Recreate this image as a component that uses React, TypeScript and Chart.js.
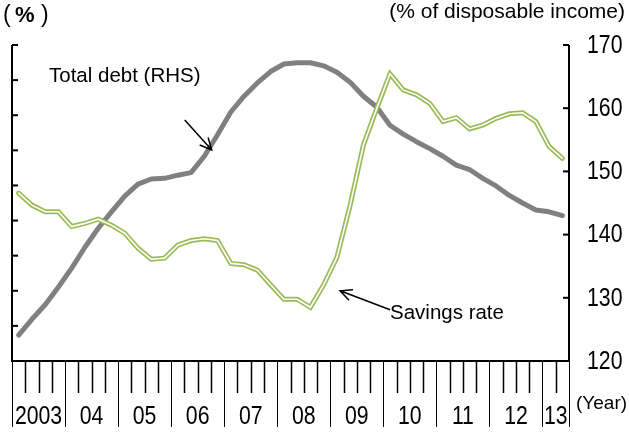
import React, { useEffect, useRef } from "react";
import { Chart, registerables } from "chart.js";
Chart.register(...registerables);

const quarters = [
  "2003Q1","2003Q2","2003Q3","2003Q4","2004Q1","2004Q2","2004Q3","2004Q4",
  "2005Q1","2005Q2","2005Q3","2005Q4","2006Q1","2006Q2","2006Q3","2006Q4",
  "2007Q1","2007Q2","2007Q3","2007Q4","2008Q1","2008Q2","2008Q3","2008Q4",
  "2009Q1","2009Q2","2009Q3","2009Q4","2010Q1","2010Q2","2010Q3","2010Q4",
  "2011Q1","2011Q2","2011Q3","2011Q4","2012Q1","2012Q2","2012Q3","2012Q4",
  "2013Q1","2013Q2",
];
const yearLabels = ["2003","04","05","06","07","08","09","10","11","12","13"];

// Total debt, % of disposable income (right axis)
const totalDebt = [
  124.1,126.6,128.9,131.7,134.7,138.0,141.0,143.6,146.1,148.0,
  148.8,148.9,149.4,149.8,152.4,155.8,159.4,161.9,164.0,165.8,
  167.0,167.2,167.2,166.7,165.7,164.1,161.9,160.2,157.3,155.9,
  154.7,153.6,152.4,151.0,150.3,148.9,147.7,146.2,145.0,143.9,
  143.6,143.0,
];
// Savings rate, % (left axis)
const savingsRate = [
  4.78,4.44,4.25,4.25,3.83,3.92,4.04,3.87,3.64,3.21,
  2.90,2.93,3.30,3.43,3.48,3.43,2.78,2.74,2.59,2.17,
  1.76,1.76,1.53,2.17,2.95,4.44,6.15,7.19,8.18,7.72,
  7.58,7.34,6.82,6.93,6.61,6.72,6.91,7.04,7.07,6.82,
  6.11,5.77,
];
const rightTicks = [120, 130, 140, 150, 160, 170];
const leftTicks = [0, 1, 2, 3, 4, 5, 6, 7, 8, 9];

const NUM_FONT = "25px 'Liberation Sans', Arial, sans-serif";
const TXT_FONT = "20.5px 'Liberation Sans', Arial, sans-serif";

function narrowText(ctx: CanvasRenderingContext2D, text: string, x: number, y: number, sx: number) {
  ctx.save();
  ctx.translate(x, y);
  ctx.scale(sx, 1);
  ctx.fillText(text, 0, 0);
  ctx.restore();
}

function arrow(ctx: CanvasRenderingContext2D, x1: number, y1: number, x2: number, y2: number) {
  ctx.beginPath();
  ctx.moveTo(x1, y1);
  ctx.lineTo(x2, y2);
  const ang = Math.atan2(y2 - y1, x2 - x1);
  const L = 13, s = 0.45;
  ctx.moveTo(x2 - L * Math.cos(ang - s), y2 - L * Math.sin(ang - s));
  ctx.lineTo(x2, y2);
  ctx.lineTo(x2 - L * Math.cos(ang + s), y2 - L * Math.sin(ang + s));
  ctx.stroke();
}

const decorPlugin = {
  id: "decor",
  afterDatasetsDraw(chart: any) {
    const { ctx, chartArea: a, scales } = chart;
    const x = scales.x, yL = scales.yL, yR = scales.yR;
    ctx.save();
    ctx.strokeStyle = "#000";
    ctx.fillStyle = "#000";

    // axis lines
    ctx.lineWidth = 2;
    ctx.beginPath();
    ctx.moveTo(a.left, a.top);
    ctx.lineTo(a.left, a.bottom);
    ctx.lineTo(a.right, a.bottom);
    ctx.lineTo(a.right, a.top);
    ctx.stroke();

    // left ticks (inward)
    leftTicks.forEach((v) => {
      const y = yL.getPixelForValue(v);
      ctx.beginPath();
      ctx.moveTo(a.left, y);
      ctx.lineTo(a.left + 6, y);
      ctx.stroke();
    });
    // right ticks + labels
    ctx.font = NUM_FONT;
    ctx.textAlign = "left";
    ctx.textBaseline = "middle";
    rightTicks.forEach((v) => {
      const y = yR.getPixelForValue(v);
      ctx.beginPath();
      ctx.moveTo(a.right - 6, y);
      ctx.lineTo(a.right, y);
      ctx.stroke();
      narrowText(ctx, String(v), a.right + 18, y + 1, 0.85);
    });

    // bottom quarter ticks
    for (let i = 0; i <= quarters.length; i++) {
      const px = Math.round(x.getPixelForValue(i - 0.5)) + 0.5;
      const long = i % 4 === 0 || i === quarters.length;
      ctx.lineWidth = long ? 1 : 1.5;
      ctx.beginPath();
      ctx.moveTo(px, a.bottom);
      ctx.lineTo(px, a.bottom + (long ? 66 : 32));
      ctx.stroke();
    }
    // year labels
    ctx.textAlign = "center";
    ctx.textBaseline = "middle";
    yearLabels.forEach((lab, k) => {
      const start = k * 4;
      const end = Math.min(start + 3, quarters.length - 1);
      const cx = x.getPixelForValue((start + end) / 2);
      narrowText(ctx, lab, cx, a.bottom + 56, 0.85);
    });

    // unit labels
    ctx.font = "19px 'Liberation Sans', Arial, sans-serif";
    ctx.textAlign = "left";
    ctx.fillText("(Year)", a.right + 7, a.bottom + 43);
    ctx.font = "21px 'Liberation Sans', Arial, sans-serif";
    ctx.textAlign = "right";
    ctx.textBaseline = "alphabetic";
    ctx.fillText("(% of disposable income)", 625, 18);
    ctx.textAlign = "left";
    ctx.font = "23px 'Liberation Sans', Arial, sans-serif";
    ctx.fillText("(", 3, 22);
    ctx.fillText(")", 41, 22);
    ctx.font = "bold 22px 'Liberation Sans', Arial, sans-serif";
    ctx.fillText("%", 15, 22);

    // annotations
    ctx.font = TXT_FONT;
    ctx.textAlign = "left";
    ctx.textBaseline = "middle";
    ctx.fillText("Total debt (RHS)", 49, 76);
    ctx.fillText("Savings rate", 390, 313);
    ctx.lineWidth = 1.5;
    const t1x = x.getPixelForValue(14.56), t1y = yR.getPixelForValue(153.4);
    arrow(ctx, t1x - 27, t1y - 30, t1x, t1y);
    const t2x = x.getPixelForValue(24.24), t2y = yL.getPixelForValue(2.0);
    arrow(ctx, t2x + 50, t2y + 19, t2x, t2y);

    ctx.restore();
  },
};

export default function App() {
  const ref = useRef<HTMLCanvasElement | null>(null);
  useEffect(() => {
    if (!ref.current) return;
    const chart = new Chart(ref.current, {
      type: "line",
      data: {
        labels: quarters,
        datasets: [
          {
            label: "Total debt (RHS)",
            data: totalDebt,
            yAxisID: "yR",
            borderColor: "#808080",
            borderWidth: 5,
            borderCapStyle: "round",
            borderJoinStyle: "round",
            pointRadius: 0,
            tension: 0,
            order: 3,
          },
          {
            label: "Savings rate",
            data: savingsRate,
            yAxisID: "yL",
            borderColor: "#9BBB59",
            borderWidth: 5,
            borderCapStyle: "round",
            borderJoinStyle: "miter",
            pointRadius: 0,
            tension: 0,
            order: 2,
          },
          {
            label: "Savings rate inner",
            data: savingsRate,
            yAxisID: "yL",
            borderColor: "#ffffff",
            borderWidth: 1.6,
            borderCapStyle: "round",
            borderJoinStyle: "miter",
            pointRadius: 0,
            tension: 0,
            order: 1,
          },
        ],
      },
      options: {
        animation: false,
        responsive: false,
        devicePixelRatio: 1,
        layout: { padding: { left: 12, right: 60, top: 45, bottom: 73 } },
        plugins: { legend: { display: false }, tooltip: { enabled: false } },
        scales: {
          x: { type: "category", offset: true, display: false },
          yL: { type: "linear", position: "left", min: 0, max: 9, display: false },
          yR: { type: "linear", position: "right", min: 120, max: 170, display: false },
        },
      },
      plugins: [decorPlugin],
    });
    return () => chart.destroy();
  }, []);
  return (
    <div style={{ position: "absolute", left: 0, top: 0, width: 629, height: 434, background: "#fff" }}>
      <canvas ref={ref} width={629} height={434} style={{ display: "block" }} />
    </div>
  );
}
